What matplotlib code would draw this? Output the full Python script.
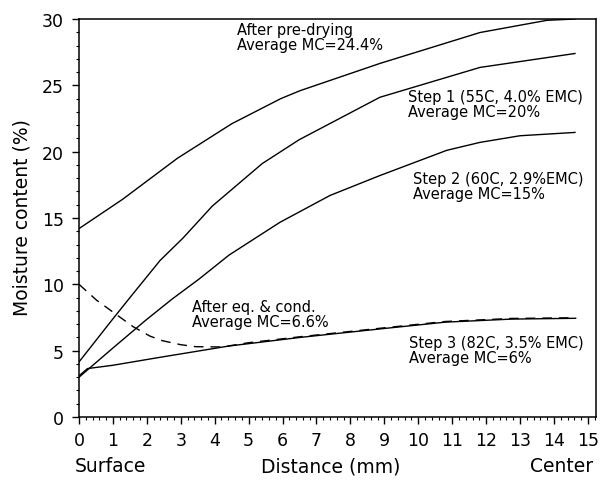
import matplotlib
matplotlib.use("Agg")
import matplotlib.pyplot as plt
from matplotlib.ticker import MultipleLocator

# ---- data (distance in mm, moisture content in %) ----
x_pre = [0, 1.28, 2.9, 4.5, 5.95, 6.52, 8.87, 11.82, 13.79, 14.62]
y_pre = [14.2, 16.4, 19.5, 22.1, 24.0, 24.6, 26.65, 28.98, 29.9, 30.0]

x_s1 = [0, 1.0, 1.47, 2.39, 3.07, 3.93, 5.4, 6.49, 8.87, 11.82, 14.62]
y_s1 = [4.15, 7.4, 8.9, 11.8, 13.5, 15.9, 19.1, 20.9, 24.1, 26.35, 27.4]

x_s2 = [0, 1.0, 1.97, 2.75, 3.54, 4.42, 5.92, 7.4, 8.87, 10.84, 11.82, 13.0, 14.62]
y_s2 = [3.0, 5.2, 7.3, 8.9, 10.4, 12.2, 14.67, 16.7, 18.2, 20.1, 20.7, 21.2, 21.45]

x_s3 = [0, 0.25, 1.0, 2.39, 4.42, 6.52, 8.84, 10.8, 12.76, 14.64]
y_s3 = [3.1, 3.65, 3.9, 4.5, 5.35, 6.0, 6.63, 7.15, 7.38, 7.44]

x_eq = [0, 0.52, 1.06, 1.6, 2.09, 2.46, 3.0, 3.44, 4.22, 5.0, 6.52, 8.84, 10.8, 12.76, 14.64]
y_eq = [10.0, 8.8, 7.8, 6.8, 6.1, 5.75, 5.45, 5.3, 5.28, 5.6, 6.05, 6.68, 7.2, 7.43, 7.48]

labels = [
    ("After pre-drying\nAverage MC=24.4%", 4.66, 29.75),
    ("Step 1 (55C, 4.0% EMC)\nAverage MC=20%", 9.71, 24.7),
    ("Step 2 (60C, 2.9%EMC)\nAverage MC=15%", 9.85, 18.55),
    ("After eq. & cond.\nAverage MC=6.6%", 3.34, 8.9),
    ("Step 3 (82C, 3.5% EMC)\nAverage MC=6%", 9.73, 6.15),
]

plt.rcParams['font.family'] = ['DejaVu Sans']

fig = plt.figure(figsize=(6.0, 4.81), dpi=100)
ax = fig.add_axes([79/600, 63/481, (596-79)/600, (418-20)/481])

lw = 1.0
ax.plot(x_pre, y_pre, color='black', lw=lw)
ax.plot(x_s1, y_s1, color='black', lw=lw)
ax.plot(x_s2, y_s2, color='black', lw=lw)
ax.plot(x_s3, y_s3, color='black', lw=lw)
ax.plot(x_eq, y_eq, color='black', lw=lw, dashes=(7, 5))

for txt, tx, ty in labels:
    ax.text(tx, ty, txt, fontsize=10.5, va='top', ha='left', linespacing=1.0)

ax.set_xlim(0, 15.24)
ax.set_ylim(0, 30)
ax.xaxis.set_major_locator(MultipleLocator(1))
ax.xaxis.set_minor_locator(MultipleLocator(0.2))
ax.yaxis.set_major_locator(MultipleLocator(5))
ax.yaxis.set_minor_locator(MultipleLocator(1))
ax.set_xticks(range(0, 16))
ax.tick_params(axis='both', which='major', direction='out', length=5, width=1.0,
               labelsize=12.5)
ax.tick_params(axis='both', which='minor', direction='out', length=2.5, width=0.8)
ax.tick_params(axis='x', which='major', pad=5)
ax.tick_params(axis='y', which='major', pad=6)
for s in ax.spines.values():
    s.set_linewidth(1.1)

xt = ax.get_xaxis_transform()
ax.text(-0.12, -0.123, "Surface", transform=xt, ha='left', va='center', fontsize=13.5)
ax.text(7.43, -0.123, "Distance (mm)", transform=xt, ha='center', va='center', fontsize=13.5)
ax.text(15.15, -0.123, "Center", transform=xt, ha='right', va='center', fontsize=13.5)

fig.text(0.036, 0.548, "Moisture content (%)", rotation=90, ha='center', va='center',
         fontsize=13.5)

fig.savefig("out.png", dpi=100)
